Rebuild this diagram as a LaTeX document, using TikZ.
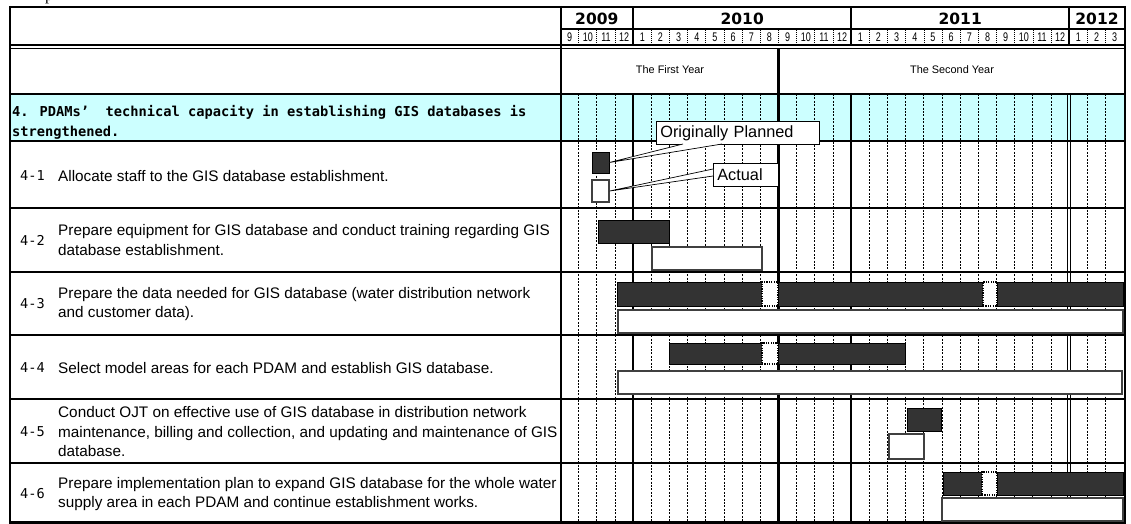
\documentclass[tikz,border=0pt]{standalone}
\usepackage{fontspec}
\setmainfont{Liberation Sans}
\newfontfamily\gothic{DejaVu Sans Mono}
\newfontfamily\dvs{DejaVu Sans}
\newfontfamily\serifp{Liberation Serif}
\usetikzlibrary{fit}
\definecolor{cyanbg}{HTML}{CCFFFF}
\definecolor{bardark}{HTML}{333333}
\begin{document}
\begin{tikzpicture}[x=1pt,y=-1pt,
  heavy/.style={line width=2.4pt},
  rowline/.style={line width=2pt},
  monthline/.style={line width=0.9pt, dash pattern=on 2pt off 1.4pt},
  hdrsep/.style={line width=0.8pt, dash pattern=on 1pt off 1pt},
  plan/.style={draw=black, line width=0.8pt, fill=bardark, inner sep=0pt},
  actual/.style={draw=black!75, line width=1.3pt, fill=white, inner sep=0pt},
  gapbox/.style={draw=black, line width=1.1pt, dash pattern=on 1.2pt off 1.2pt, fill=white, inner sep=0pt},
  callout/.style={draw=black, line width=0.7pt, fill=white, inner xsep=4pt, inner ysep=0pt,
     font=\fontsize{16.3}{18}\selectfont, anchor=north west, minimum height=23pt, align=left},
  yearlbl/.style={font=\dvs\bfseries\fontsize{15.5}{15.5}\selectfont, inner sep=0pt},
  monthlbl/.style={font=\fontsize{12.5}{12.5}\selectfont, inner sep=0pt},
  periodlbl/.style={font=\fontsize{10.9}{12}\selectfont, inner sep=0pt},
  numlbl/.style={font=\gothic\fontsize{13.6}{16}\selectfont, anchor=west, inner sep=0pt},
  desc/.style={font=\fontsize{15.3}{19.5}\selectfont, anchor=west, align=left, inner sep=0pt},
  wedge/.style={draw=black, line width=0.7pt}
]
\useasboundingbox (0,0) rectangle (1131,524);
\fill[white] (0,0) rectangle (1131,524);
% cut-off text at the top
\node[font=\serifp\fontsize{16}{16}\selectfont, anchor=base, inner sep=0pt] (ptop) at (49,0.8) {p};
% cyan band
\fill[cyanbg] (10,94) rectangle (1125,141);
% month grid lines in body
\foreach \i in {1,2,3,5,6,7,8,9,10,11,13,14,15,17,18,19,20,21,22,23,24,25,26,27,29,30}
  \draw[monthline] ({560.5+18.17*\i},94) -- ({560.5+18.17*\i},523);
% header month separators
\foreach \i in {1,2,3,5,6,7,8,9,10,11,12,13,14,15,17,18,19,20,21,22,23,24,25,26,27,29,30}
  \draw[hdrsep] ({560.5+18.17*\i},30) -- ({560.5+18.17*\i},44);
% year boundary lines
\foreach \i in {4,16}
  \draw[heavy] ({560.5+18.17*\i},7) -- ({560.5+18.17*\i},45)
               ({560.5+18.17*\i},94) -- ({560.5+18.17*\i},523);
\draw[heavy] ({560.5+18.17*28},7) -- ({560.5+18.17*28},45);
\draw[line width=1pt] ({560.5+18.17*28-1.6},94) -- ({560.5+18.17*28-1.6},523)
                      ({560.5+18.17*28+1.6},94) -- ({560.5+18.17*28+1.6},523);
\draw[heavy] (778.5,48.5) -- (778.5,523);
% horizontal lines
\draw[heavy] (10,7) -- (1125,7);
\draw[heavy] (561,29) -- (1125,29);
\draw[line width=2pt] (10,45) -- (1125,45);
\draw[line width=1.5pt] (10,48.5) -- (1125,48.5);
\draw[heavy] (10,94) -- (1125,94);
\draw[heavy] (10,141) -- (1125,141);
\foreach \yy in {208,272,335,399,463}
  \draw[rowline] (10,\yy) -- (1125,\yy);
\draw[heavy] (10,522.5) -- (1125,522.5);
% vertical borders
\draw[heavy] (10,5.8) -- (10,523.7);
\draw[heavy] (561,5.8) -- (561,523.7);
\draw[heavy] (1125,5.8) -- (1125,523.7);
% header labels
\node[yearlbl] (y2009) at (596.8,18.5) {2009};
\node[yearlbl] (y2010) at (742.2,18.5) {2010};
\node[yearlbl] (y2011) at (960.2,18.5) {2011};
\node[yearlbl] (y2012) at (1097,18.5) {2012};
\foreach \m [count=\k from 0] in {9,10,11,12,1,2,3,4,5,6,7,8,9,10,11,12,1,2,3,4,5,6,7,8,9,10,11,12,1,2,3}
  \node[monthlbl] (m\k) at ({560.5+18.17*(\k+0.5)},37) {\scalebox{0.72}[1]{\m}};
\node[periodlbl] (first) at (670,70) {The First Year};
\node[periodlbl] (second) at (952,70) {The Second Year};
% heading
\node[anchor=west, align=left, inner sep=0pt,
      font=\gothic\bfseries\fontsize{13.7}{20}\selectfont] (h4) at (12,122)
  {4. PDAMs’\ \ technical capacity in establishing GIS databases is\\strengthened.};
% rows
\node[numlbl] (n41) at (20,176) {4-1};
\node[desc] (d41) at (58,176) {Allocate staff to the GIS database establishment.};
\node[numlbl] (n42) at (20,240) {4-2};
\node[desc] (d42) at (58,240) {Prepare equipment for GIS database and conduct training regarding GIS\\database establishment.};
\node[numlbl] (n43) at (20,304) {4-3};
\node[desc] (d43) at (58,304) {Prepare the data needed for GIS database (water distribution network\\and customer data).};
\node[numlbl] (n44) at (20,368) {4-4};
\node[desc] (d44) at (58,368) {Select model areas for each PDAM and establish GIS database.};
\node[numlbl] (n45) at (20,432) {4-5};
\node[desc] (d45) at (58,432) {Conduct OJT on effective use of GIS database in distribution network\\maintenance, billing and collection, and updating and maintenance of GIS\\database.};
\node[numlbl] (n46) at (20,494) {4-6};
\node[desc] (d46) at (58,494) {Prepare implementation plan to expand GIS database for the whole water\\supply area in each PDAM and continue establishment works.};
% bars
\node[plan, fit={(592,152) (609,173)}] (p41) {};
\node[actual, fit={(592,180) (609,202)}] (a41) {};
\node[plan, fit={(598,220) (669,243)}] (p42) {};
\node[actual, fit={(652,247) (762,270)}] (a42) {};
\node[plan, fit={(617,282) (762,306)}] (p43a) {};
\node[gapbox, fit={(762,282) (778,306)}] (g43a) {};
\node[plan, fit={(778,282) (983,306)}] (p43b) {};
\node[gapbox, fit={(983,282) (997,306)}] (g43b) {};
\node[plan, fit={(997,282) (1123,306)}] (p43c) {};
\node[actual, fit={(618,310) (1123,333)}] (a43) {};
\node[plan, fit={(669,343) (762,364)}] (p44a) {};
\node[gapbox, fit={(762,343) (778,364)}] (g44) {};
\node[plan, fit={(778,343) (905,364)}] (p44b) {};
\node[actual, fit={(618,371) (1122,394)}] (a44) {};
\node[plan, fit={(907,408) (941,431)}] (p45) {};
\node[actual, fit={(889,434) (924,459)}] (a45) {};
\node[plan, fit={(943,472) (982,495)}] (p46a) {};
\node[gapbox, fit={(982,472) (997,495)}] (g46) {};
\node[plan, fit={(997,472) (1123,495)}] (p46b) {};
\node[actual, fit={(942,498) (1123,521)}] (a46) {};
% callouts
\node[callout, text width=155pt] (op) at (656,121) {Originally Planned};
\node[callout, text width=57pt] (ac) at (713,163) {Actual};
\coordinate (opA) at (683,144);
\coordinate (opB) at (722,144);
\coordinate (acA) at (713,169);
\coordinate (acB) at (713,176);
\fill[white] (opA) -- (p41.east) -- (opB) -- cycle;
\draw[wedge] (opA) -- (p41.east) -- (opB);
\fill[white] (acA) -- (a41.east) -- (acB) -- cycle;
\draw[wedge] (acA) -- (a41.east) -- (acB);
\end{tikzpicture}
\end{document}
